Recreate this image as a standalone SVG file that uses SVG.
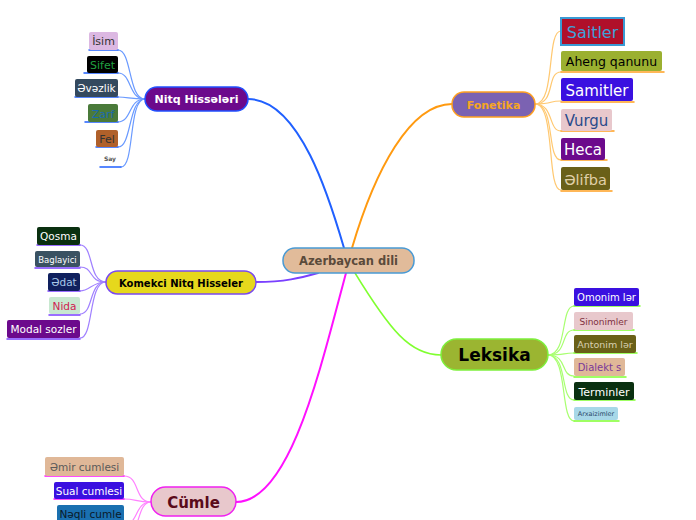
<svg xmlns="http://www.w3.org/2000/svg" width="696" height="520" viewBox="0 0 696 520">
<style>
text{font-family:"DejaVu Sans","Verdana",sans-serif}
.main{font-weight:bold;text-anchor:middle}
.c{text-anchor:middle}
.l{fill:none}
</style>
<rect width="696" height="520" fill="#fff"/>
<g id="connectors" fill="none" stroke-linecap="round">
  <path d="M248,99 C300,99 330,200 344,248" stroke="#2060ff" stroke-width="2"/>
  <path d="M352,248 C375,170 410,104 452,104" stroke="#ff9a10" stroke-width="2"/>
  <path d="M256,282 C285,282 300,278 318,273" stroke="#7a40ff" stroke-width="2"/>
  <path d="M346,273 C320,370 290,502 236,502" stroke="#ff10ff" stroke-width="2"/>
  <path d="M355,273 C390,330 410,355 441,355" stroke="#80ff30" stroke-width="1.5"/>
  <!-- Nitq children -->
  <g stroke="#6a9aff" stroke-width="1.2">
    <path d="M145,99 C128,99 132,50 118,50"/>
    <path d="M145,99 C128,99 132,73 118,73"/>
    <path d="M145,99 C130,99 128,97 118,97"/>
    <path d="M145,99 C128,99 132,122 118,122"/>
    <path d="M145,99 C128,99 132,147 118,147"/>
    <path d="M145,99 C128,99 135,167 121,167"/>
  </g>
  <g stroke="#2060ff" stroke-width="1.5">
    <path d="M89,50 H118"/><path d="M84,73 H118"/><path d="M75,97 H118"/><path d="M85,122 H118"/><path d="M96,147 H118"/><path d="M100,167 H121"/>
  </g>
  <!-- Fonetika children -->
  <g stroke="#ffc870" stroke-width="1.2">
    <path d="M535,104 C556,104 546,31 561,31"/>
    <path d="M535,104 C556,104 546,72 561,72"/>
    <path d="M535,104 C554,104 548,101 561,101"/>
    <path d="M535,104 C554,104 548,131 561,131"/>
    <path d="M535,104 C556,104 546,160 561,160"/>
    <path d="M535,104 C556,104 546,190 561,190"/>
  </g>
  <g stroke="#ffa020" stroke-width="1.5">
    <path d="M561,72 H664"/><path d="M561,102 H634"/><path d="M561,131 H614"/><path d="M561,160 H607"/><path d="M561,191 H612"/>
  </g>
  <!-- Komekci children -->
  <g stroke="#a080ff" stroke-width="1.2">
    <path d="M106,282 C88,282 94,245 80,245"/>
    <path d="M106,282 C88,282 94,267 80,267"/>
    <path d="M106,282 C92,282 90,291 80,291"/>
    <path d="M106,282 C88,282 94,314 80,314"/>
    <path d="M106,282 C88,282 94,338 80,338"/>
  </g>
  <g stroke="#7a40ff" stroke-width="1.5">
    <path d="M37,245 H80"/><path d="M35,268 H80"/><path d="M48,291 H80"/><path d="M49,315 H80"/><path d="M7,339 H80"/>
  </g>
  <!-- Leksika children -->
  <g stroke="#a8ff70" stroke-width="1.2">
    <path d="M548,355 C568,355 560,306 574,306"/>
    <path d="M548,355 C568,355 560,330 574,330"/>
    <path d="M548,355 C566,355 562,353 574,353"/>
    <path d="M548,355 C568,355 560,376 574,376"/>
    <path d="M548,355 C568,355 560,400 574,400"/>
    <path d="M548,355 C568,355 560,421 574,421"/>
  </g>
  <g stroke="#80ff30" stroke-width="1.5">
    <path d="M574,306 H640"/><path d="M574,330 H634"/><path d="M574,353 H637"/><path d="M574,377 H626"/><path d="M574,400 H635"/><path d="M574,421 H619"/>
  </g>
  <!-- Cumle children -->
  <g stroke="#ff80ff" stroke-width="1.2">
    <path d="M151,502 C134,502 140,476 124,476"/>
    <path d="M151,502 C136,502 136,499 124,499"/>
    <path d="M151,502 C136,502 138,520 128,525"/>
    <path d="M151,502 C140,502 140,520 134,530"/>
  </g>
  <g stroke="#ff10ff" stroke-width="1.5">
    <path d="M45,476 H124"/><path d="M54,499 H124"/>
  </g>
</g>

<g id="center">
  <rect x="283" y="248" width="131" height="25" rx="12" fill="#e1bb9a" stroke="#4a9ad4" stroke-width="1.5"/>
  <text class="main" x="348.5" y="265" font-size="11.5" fill="#5a4a3a">Azerbaycan dili</text>
</g>

<g id="nitq">
  <rect x="145" y="87" width="103" height="24" rx="12" fill="#6c0a8c" stroke="#2050ff" stroke-width="1.5"/>
  <text class="main" x="196.5" y="103" font-size="11" fill="#fff">Nitq Hissələri</text>
</g>
<g id="isim"><rect x="89" y="32" width="29" height="18" rx="2" fill="#dcb8e2"/><text class="c" x="103.5" y="45" font-size="11" fill="#333">İsim</text></g>
<g id="sifet"><rect x="87" y="56" width="31" height="17" rx="2" fill="#000"/><text class="c" x="102.5" y="69" font-size="11" fill="#20a040">Sifet</text></g>
<g id="evezlik"><rect x="75" y="79" width="43" height="18" rx="2" fill="#34495e"/><text class="c" x="96.5" y="92" font-size="10.5" fill="#fff">Əvəzlik</text></g>
<g id="zarf"><rect x="88" y="104" width="30" height="18" rx="2" fill="#4a7a3a"/><text class="c" x="103" y="118" font-size="11" fill="#1a6ab0">Zarf</text></g>
<g id="fel"><rect x="96" y="130" width="22" height="17" rx="2" fill="#b0602a"/><text class="c" x="107" y="143" font-size="11" fill="#333">Fel</text></g>
<g id="say"><text class="c" x="110" y="161" font-size="6" font-weight="bold" fill="#555">Say</text></g>

<g id="fonetika">
  <rect x="452" y="92" width="83" height="25" rx="12" fill="#7b62b2" stroke="#ffa020" stroke-width="1.5"/>
  <text class="main" x="493.5" y="108.5" font-size="11" fill="#f5a623">Fonetika</text>
</g>
<g id="saitler"><rect x="561" y="18" width="63" height="27" fill="#b0102a" stroke="#3a9ad4" stroke-width="2"/><text class="c" x="592.5" y="38" font-size="16" fill="#40a0d8">Saitler</text></g>
<g id="aheng"><rect x="561" y="51" width="101" height="20" rx="2" fill="#9bb030"/><text class="c" x="611.5" y="66" font-size="12.5" fill="#000">Aheng qanunu</text></g>
<g id="samitler"><rect x="561" y="78" width="72" height="23" rx="2" fill="#3a10e0"/><text class="c" x="597" y="95.5" font-size="15" fill="#fff">Samitler</text></g>
<g id="vurgu"><rect x="561" y="109" width="51" height="22" rx="2" fill="#e8c8cc"/><text class="c" x="586.5" y="126" font-size="15" fill="#2a4a8a">Vurgu</text></g>
<g id="heca"><rect x="561" y="138" width="44" height="22" rx="2" fill="#6c0a8c"/><text class="c" x="583" y="155" font-size="15" fill="#fff">Heca</text></g>
<g id="elifba"><rect x="561" y="167" width="49" height="23" rx="2" fill="#6a6018"/><text class="c" x="585.5" y="184.5" font-size="14.5" fill="#e0d0a8">Əlifba</text></g>

<g id="komekci">
  <rect x="106" y="271" width="150" height="23" rx="11.5" fill="#e6d81c" stroke="#7a4af0" stroke-width="1.5"/>
  <text class="main" x="181" y="286.5" font-size="10" fill="#000">Komekci Nitq Hisseler</text>
</g>
<g id="qosma"><rect x="37" y="227" width="43" height="18" rx="2" fill="#0a3010"/><text class="c" x="58.5" y="240" font-size="10.5" fill="#fff">Qosma</text></g>
<g id="baglayici"><rect x="35" y="251" width="45" height="16" rx="2" fill="#3a5262"/><text class="c" x="57.5" y="262.5" font-size="8.5" fill="#fff">Baglayici</text></g>
<g id="edat"><rect x="48" y="273" width="32" height="18" rx="2" fill="#10205e"/><text class="c" x="64" y="286" font-size="10.5" fill="#a8c8e8">Ədat</text></g>
<g id="nida"><rect x="49" y="297" width="31" height="17" rx="2" fill="#c8e8d0"/><text class="c" x="64.5" y="310" font-size="10.5" fill="#d02050">Nida</text></g>
<g id="modal"><rect x="7" y="320" width="73" height="18" rx="2" fill="#6c0a8c"/><text class="c" x="43.5" y="333" font-size="10.5" fill="#fff">Modal sozler</text></g>

<g id="leksika">
  <rect x="441" y="339" width="107" height="31" rx="15.5" fill="#9bb531" stroke="#7ef03c" stroke-width="1.5"/>
  <text class="main" x="494.5" y="361" font-size="17" fill="#000">Leksika</text>
</g>
<g id="omonim"><rect x="574" y="288" width="65" height="18" rx="2" fill="#3a10e0"/><text class="c" x="606.5" y="301" font-size="10" fill="#fff">Omonim lər</text></g>
<g id="sinonim"><rect x="574" y="312" width="59" height="18" rx="2" fill="#e8c8cc"/><text class="c" x="603.5" y="325" font-size="9" fill="#803040">Sinonimler</text></g>
<g id="antonim"><rect x="574" y="335" width="62" height="18" rx="2" fill="#6a6018"/><text class="c" x="605" y="348" font-size="9.5" fill="#d8d0b0">Antonim lər</text></g>
<g id="dialekt"><rect x="574" y="358" width="51" height="18" rx="2" fill="#e0b898"/><text class="c" x="599.5" y="371" font-size="10" fill="#7a3a9a">Dialekt s</text></g>
<g id="terminler"><rect x="574" y="382" width="60" height="18" rx="2" fill="#0a3010"/><text class="c" x="604" y="395.5" font-size="11" fill="#fff">Terminler</text></g>
<g id="arxaizm"><rect x="574" y="407" width="44" height="13" rx="2" fill="#a8d8e8"/><text class="c" x="596" y="416" font-size="6.5" fill="#2a4a6a">Arxaizimler</text></g>

<g id="cumle">
  <rect x="151" y="487" width="85" height="29" rx="14.5" fill="#e8c8cc" stroke="#f020f0" stroke-width="1.5"/>
  <text class="main" x="193.5" y="507.5" font-size="15" fill="#5a0a1a">Cümle</text>
</g>
<g id="emir"><rect x="45" y="457" width="79" height="19" rx="2" fill="#e0b898"/><text class="c" x="84.5" y="470.5" font-size="10.5" fill="#5a5a5a">Əmir cumlesi</text></g>
<g id="sual"><rect x="54" y="482" width="70" height="17" rx="2" fill="#3a10e0"/><text class="c" x="89" y="495" font-size="10.5" fill="#fff">Sual cumlesi</text></g>
<g id="neqli"><rect x="57" y="505" width="67" height="20" rx="2" fill="#1a70b0"/><text class="c" x="90.5" y="518" font-size="10.5" fill="#0a1a2a">Nəqli  cumle</text></g>
</svg>
